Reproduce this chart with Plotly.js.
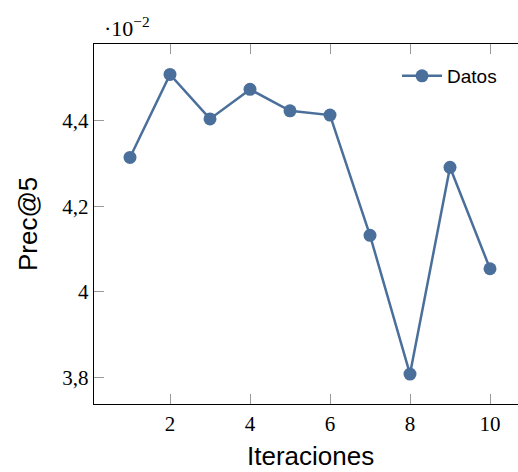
<!DOCTYPE html>
<html>
<head>
<meta charset="utf-8">
<script src="https://cdn.plot.ly/plotly-3.0.1.min.js"></script>
<style>html,body{margin:0;padding:0;background:#fff;}#chart{width:518px;height:472px;}</style>
</head>
<body>
<div id="chart"></div>
<script>
// Iteration numbers
const iteraciones = [1, 2, 3, 4, 5, 6, 7, 8, 9, 10];
// Prec@5 values, in units of 10^-2
const prec5 = [4.314, 4.508, 4.404, 4.473, 4.423, 4.413, 4.132, 3.808, 4.291, 4.054];
const seriesName = "Datos";
const xTickVals = [2, 4, 6, 8, 10];
const yTickVals = [3.8, 4, 4.2, 4.4];
const xLabel = "Iteraciones";
const yLabel = "Prec@5";
const scaleLabel = "·10<sup>−2</sup>";

const color = "#4a6f9a";
const serif = "Liberation Serif, DejaVu Serif, serif";
const sans = "Liberation Sans, Arial, sans-serif";

const trace = {
  x: iteraciones, y: prec5, name: seriesName,
  type: "scatter", mode: "lines+markers",
  line: {color: color, width: 2.5},
  marker: {color: color, size: 13, line: {width: 0}}
};

const layout = {
  width: 518, height: 472,
  margin: {l: 94, r: 0, t: 44, b: 68, pad: 0},
  paper_bgcolor: "#fff", plot_bgcolor: "#fff",
  separators: ",.",
  showlegend: true,
  legend: {
    x: (518 - 16 - 94) / 424, xanchor: "right", y: 1 - 13 / 360, yanchor: "top",
    bgcolor: "rgba(0,0,0,0)", borderwidth: 0,
    font: {family: sans, size: 19, color: "#000"},
    itemwidth: 40
  },
  xaxis: {
    range: [0.1, 10.7],
    tickmode: "array", tickvals: xTickVals,
    ticks: "inside", ticklen: 10, tickwidth: 1, tickcolor: "#999",
    showline: true, linecolor: "#000", linewidth: 1.3, mirror: "ticks",
    showgrid: false, zeroline: false,
    tickfont: {family: serif, size: 21, color: "#000"}
  },
  yaxis: {
    range: [3.738, 4.579],
    tickmode: "array", tickvals: yTickVals,
    ticks: "inside", ticklen: 10, tickwidth: 1, tickcolor: "#999",
    showline: true, linecolor: "#000", linewidth: 1.3, mirror: false,
    showgrid: false, zeroline: false,
    tickfont: {family: serif, size: 21, color: "#000"}
  },
  annotations: [
    {text: scaleLabel, xref: "paper", yref: "paper", x: 0.02, y: 1, xanchor: "left", yanchor: "bottom",
     yshift: 1, showarrow: false, font: {family: serif, size: 22, color: "#000"}},
    {text: xLabel, xref: "paper", yref: "paper", x: (310 - 94) / 424, y: 0, xanchor: "center", yanchor: "top",
     yshift: -35, showarrow: false, font: {family: sans, size: 26, color: "#000"}},
    {text: yLabel, xref: "paper", yref: "paper", x: 0, y: 0.5, xanchor: "center", yanchor: "middle",
     xshift: -66, textangle: -90, showarrow: false, font: {family: sans, size: 26, color: "#000"}}
  ]
};

Plotly.newPlot("chart", [trace], layout, {staticPlot: true, displayModeBar: false});
</script>
</body>
</html>
